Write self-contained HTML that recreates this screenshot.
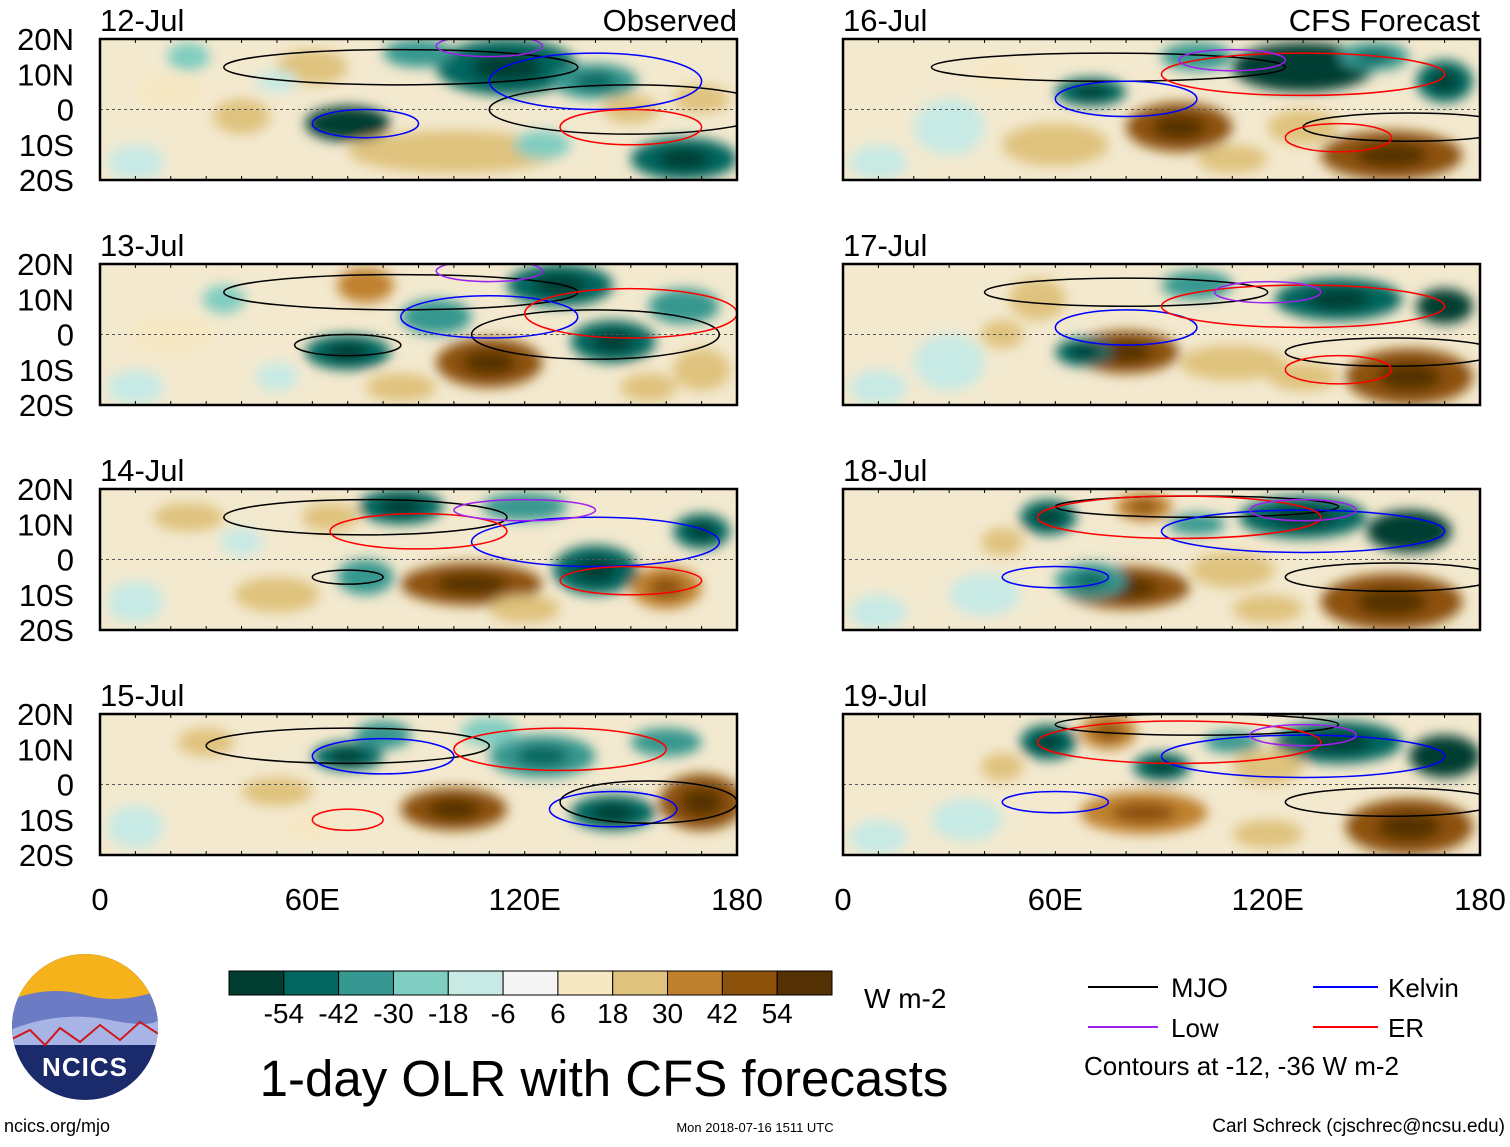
<!DOCTYPE html>
<html><head><meta charset="utf-8"><style>
body{margin:0;background:#fff;font-family:"Liberation Sans",sans-serif}
svg text{font-family:"Liberation Sans",sans-serif}
</style></head><body>
<svg id="fig" width="1510" height="1142" viewBox="0 0 1510 1142" xmlns="http://www.w3.org/2000/svg">
<defs><filter id="bl" x="-20%" y="-50%" width="140%" height="200%"><feGaussianBlur stdDeviation="6"/></filter></defs>
<g id="panels"></g>
<g id="cbar"></g>
<g>
<clipPath id="lc"><circle cx="85" cy="1027" r="73"/></clipPath>
<g clip-path="url(#lc)">
<rect x="10" y="950" width="150" height="160" fill="#1b2a6b"/>
<rect x="10" y="950" width="150" height="50" fill="#f5b21a"/>
<path d="M10 1000 Q50 985 85 995 T160 990 L160 1040 L10 1040Z" fill="#6b7bc4"/>
<path d="M10 1030 Q60 1010 110 1020 T160 1015 L160 1045 L10 1045Z" fill="#a8b4e6"/>
<path d="M10 1040 L30 1030 L45 1045 L60 1028 L80 1042 L100 1025 L120 1040 L140 1022 L160 1035" stroke="#d01818" stroke-width="2" fill="none"/>
</g>
<text x="85" y="1076" text-anchor="middle" font-size="26" font-weight="bold" fill="#fff" letter-spacing="1">NCICS</text>
</g>
<text x="4" y="1132" font-size="18">ncics.org/mjo</text>
<text x="755" y="1132" font-size="13" text-anchor="middle">Mon 2018-07-16 1511 UTC</text>
<text x="1505" y="1132" font-size="19" text-anchor="end">Carl Schreck (cjschrec@ncsu.edu)</text>
<text x="604" y="1096" font-size="51" text-anchor="middle">1-day OLR with CFS forecasts</text>
<text x="864" y="1008" font-size="28">W m-2</text>
<g>
<line x1="1088" y1="987" x2="1158" y2="987" stroke="#000" stroke-width="2"/><text x="1171" y="997" font-size="27">MJO</text>
<line x1="1313" y1="987" x2="1378" y2="987" stroke="#0000ff" stroke-width="2"/><text x="1388" y="997" font-size="26">Kelvin</text>
<line x1="1088" y1="1027" x2="1158" y2="1027" stroke="#a020f0" stroke-width="2"/><text x="1171" y="1037" font-size="26">Low</text>
<line x1="1313" y1="1027" x2="1378" y2="1027" stroke="#ff0000" stroke-width="2"/><text x="1388" y="1037" font-size="26">ER</text>
<text x="1084" y="1075" font-size="26">Contours at -12, -36 W m-2</text>
</g>
</svg>
<script>
const levels=[-54,-42,-30,-18,-6,6,18,30,42,54];
const colors=["#003c30","#01665e","#35978f","#80cdc1","#c7eae5","#f5f5f5","#f6e8c3","#dfc27d","#bf812d","#8c510a","#543005"];
const latTicks=["20N","10N","0","10S","20S"];
const lonTicks=["0","60E","120E","180"];
const dates=["12-Jul","13-Jul","14-Jul","15-Jul","16-Jul","17-Jul","18-Jul","19-Jul"];
// OLR anomaly blobs per panel: [lon, lat, lonRadius, latRadius, value]
const blobs0=[[115,12,20,8,-50],[70,-4,12,5,-54],[165,-14,15,6,-50],[60,12,10,5,30],[100,-12,30,6,24],[20,5,10,5,18],[140,8,12,5,-40],[90,16,10,4,-30],[40,-2,8,5,20],[10,-15,8,5,-8],[25,15,6,4,-20],[150,0,8,4,30],[170,3,8,4,30],[125,-10,8,4,-20],[50,8,6,3,-10]];
const blobs1=[[110,-8,15,7,45],[70,-5,12,5,-45],[130,14,15,6,-50],[145,-2,12,6,-45],[75,14,8,5,35],[170,-10,8,6,30],[95,5,10,5,-30],[20,0,12,6,18],[165,8,10,5,-30],[10,-15,8,5,-8],[35,10,6,4,-20],[85,-15,10,4,25],[155,-15,8,4,30],[50,-12,6,4,-15]];
const blobs2=[[105,-7,20,6,45],[140,-3,12,7,-50],[160,-8,10,6,40],[85,15,12,5,-45],[75,-5,8,5,-35],[50,-10,12,5,20],[170,8,8,5,-45],[120,15,12,4,-30],[25,12,10,4,22],[10,-12,8,6,-8],[40,5,6,4,-15],[65,12,8,4,30],[120,-14,10,4,25]];
const blobs3=[[100,-7,15,6,50],[170,-5,12,8,45],[145,-8,12,5,-50],[70,8,10,4,-45],[125,8,15,6,-40],[30,12,8,4,25],[160,12,10,4,-30],[50,-2,10,4,25],[10,-12,8,6,-8],[80,14,8,4,-30],[110,15,8,4,-20],[60,-12,8,4,15]];
const blobs4=[[95,-5,15,7,45],[155,-13,20,7,45],[130,12,20,7,-54],[70,5,10,4,-45],[170,8,8,6,-50],[60,-10,15,6,20],[130,-5,10,5,20],[100,15,10,4,-30],[30,-5,10,8,-8],[150,15,10,4,-40],[10,-15,8,5,-10],[110,-14,10,4,30],[45,10,8,4,15]];
const blobs5=[[80,-5,15,6,45],[160,-12,18,8,45],[140,10,18,6,-50],[170,8,8,5,-54],[68,-5,8,4,-50],[100,14,10,4,-35],[110,-8,15,5,25],[55,10,8,6,22],[30,-8,10,8,-8],[10,-15,8,5,-10],[130,-12,10,4,25],[45,0,6,4,20]];
const blobs6=[[80,-8,18,6,45],[155,-12,20,8,45],[130,12,18,6,-50],[160,8,12,6,-54],[58,12,8,5,-45],[70,-6,10,5,-40],[110,-3,12,5,30],[85,15,8,4,40],[40,-10,10,6,-10],[10,-15,8,5,-10],[120,-14,10,4,25],[45,5,6,4,20],[100,10,8,3,-30]];
const blobs7=[[85,-8,18,6,40],[160,-12,18,8,45],[140,12,18,6,-50],[170,8,10,6,-54],[58,12,8,5,-50],[75,15,8,5,40],[90,5,8,4,-45],[120,5,10,5,30],[35,-10,10,6,-10],[10,-15,8,5,-10],[120,-14,10,4,25],[45,5,6,4,20],[110,12,8,3,-30]];
const allBlobs=[blobs0,blobs1,blobs2,blobs3,blobs4,blobs5,blobs6,blobs7];
// contour ellipses per panel: [lon, lat, lonRadius, latRadius, type]
const conts=[
[[85,12,50,5,"mjo"],[150,0,40,7,"mjo"],[140,8,30,8,"kelvin"],[75,-4,15,4,"kelvin"],[150,-5,20,5,"er"],[110,18,15,3,"low"]],
[[85,12,50,5,"mjo"],[140,0,35,7,"mjo"],[110,5,25,6,"kelvin"],[150,6,30,7,"er"],[70,-3,15,3,"mjo"],[110,18,15,3,"low"]],
[[75,12,40,5,"mjo"],[140,5,35,7,"kelvin"],[90,8,25,5,"er"],[150,-6,20,4,"er"],[70,-5,10,2,"mjo"],[120,14,20,3,"low"]],
[[70,11,40,5,"mjo"],[145,-7,18,5,"kelvin"],[155,-5,25,6,"mjo"],[80,8,20,5,"kelvin"],[130,10,30,6,"er"],[70,-10,10,3,"er"]],
[[75,12,50,4,"mjo"],[160,-5,30,4,"mjo"],[80,3,20,5,"kelvin"],[130,10,40,6,"er"],[110,14,15,3,"low"],[140,-8,15,4,"er"]],
[[80,12,40,4,"mjo"],[155,-5,30,4,"mjo"],[80,2,20,5,"kelvin"],[130,8,40,6,"er"],[120,12,15,3,"low"],[140,-10,15,4,"er"]],
[[100,15,40,3,"mjo"],[155,-5,30,4,"mjo"],[130,8,40,6,"kelvin"],[95,12,40,6,"er"],[60,-5,15,3,"kelvin"],[130,14,15,3,"low"]],
[[100,17,40,3,"mjo"],[155,-5,30,4,"mjo"],[130,8,40,6,"kelvin"],[95,12,40,6,"er"],[60,-5,15,3,"kelvin"],[130,14,15,3,"low"]]];
const contColor={mjo:"#000",kelvin:"#0000ff",er:"#ff0000",low:"#a020f0"};
const NS="http://www.w3.org/2000/svg";
function mk(t,a,p){const e=document.createElementNS(NS,t);for(const k in a)e.setAttribute(k,a[k]);p.appendChild(e);return e;}
function colorOf(v){let i=0;while(i<levels.length&&v>levels[i])i++;return colors[i];}
const PW=637,PH=141;
const panelG=document.getElementById('panels');
for(let p=0;p<8;p++){
 const col=p<4?0:1,row=p%4;
 const x0=col?843:100,y0=39+row*225;
 const X=lon=>x0+lon/180*PW, Y=lat=>y0+(20-lat)/40*PH;
 const g=mk('g',{},panelG);
 
 
 const cp=mk('clipPath',{id:'cp'+p},g);mk('rect',{x:x0,y:y0,width:PW,height:PH},cp);
 const f=mk('g',{'clip-path':'url(#cp'+p+')'},g);
 mk('rect',{x:x0,y:y0,width:PW,height:PH,fill:"#f3e9cf"},f);
 const fb=mk('g',{filter:'url(#bl)'},f);
 allBlobs[p].forEach(b=>{
  const e=mk('ellipse',{cx:X(b[0]),cy:Y(b[1]),rx:b[2]/180*PW,ry:b[3]/40*PH,fill:colorOf(b[4])},fb);
  
  
  if(Math.abs(b[4])>35){mk('ellipse',{cx:X(b[0]),cy:Y(b[1]),rx:b[2]/180*PW*0.5,ry:b[3]/40*PH*0.5,fill:colorOf(b[4]*1.3)},fb);}
 });
 mk('line',{x1:x0,y1:Y(0),x2:x0+PW,y2:Y(0),stroke:"#555","stroke-dasharray":"3,3","stroke-width":1},f);
 conts[p].forEach(c=>{
  const e=mk('ellipse',{cx:X(c[0]),cy:Y(c[1]),rx:c[2]/180*PW,ry:c[3]/40*PH,fill:"none",stroke:contColor[c[4]],"stroke-width":1.5},f);
  
  
 });
 mk('rect',{x:x0,y:y0,width:PW,height:PH,fill:"none",stroke:"#000","stroke-width":2.5},g);
 for(let l=0;l<=180;l+=10){mk('line',{x1:X(l),y1:y0,x2:X(l),y2:y0+4,stroke:"#000"},g);mk('line',{x1:X(l),y1:y0+PH,x2:X(l),y2:y0+PH-4,stroke:"#000"},g);}
 const t=mk('text',{x:x0,y:y0-8,'font-size':31},g);t.textContent=dates[p];
 
 
 if(row==0){const t2=mk('text',{x:x0+PW,y:y0-8,'font-size':31,'text-anchor':'end'},g);t2.textContent=col?"CFS Forecast":"Observed";}
 if(col==0){latTicks.forEach((s,i)=>{const tt=mk('text',{x:74,y:y0+i*PH/4+11,'font-size':31,'text-anchor':'end'},g);tt.textContent=s;
  
  });}
 if(row==3){lonTicks.forEach((s,i)=>{const tt=mk('text',{x:X(i*60),y:910,'font-size':31,'text-anchor':'middle'},g);tt.textContent=s;
  
  });}
}
const cb=document.getElementById('cbar');


const cbx=229,cbw=603/colors.length;
colors.forEach((c,i)=>{mk('rect',{x:cbx+i*cbw,y:971,width:cbw,height:24,fill:c,stroke:"#000","stroke-width":1},cb);});
levels.forEach((v,i)=>{const t=mk('text',{x:cbx+(i+1)*cbw,y:1023,'font-size':28,'text-anchor':'middle'},cb);t.textContent=v;
 
 });
</script>
</body></html>
